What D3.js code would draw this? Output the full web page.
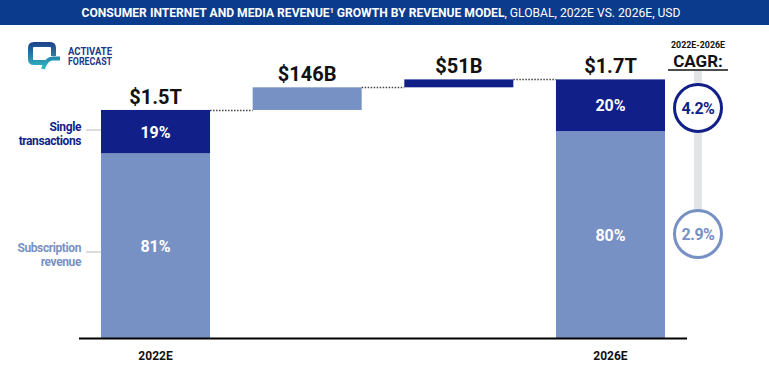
<!DOCTYPE html>
<html>
<head>
<meta charset="utf-8">
<script src="https://cdn.jsdelivr.net/npm/d3@7"></script>
<style>
  html, body { margin: 0; padding: 0; background: #fff; }
  svg { display: block; font-family: Roboto, 'Noto Sans', sans-serif; }
</style>
</head>
<body>
<div id="chart"></div>
<script>
// Data (billions USD)
const steps = ['2022E', 'subscription', 'single', '2026E'];
const stepLabels = ['$1.5T', '$146B', '$51B', '$1.7T'];
const startTotal = 1470;
const deltas = [146, 51];
const endTotal = 1667;
const singleShare = [19, 20];
const subShare = [81, 80];
const axisLabels = ['2022E', '', '', '2026E'];
const cagrValues = ['4.2%', '2.9%'];

const W = 769, H = 371;
const DARK = '#111f88', LIGHT = '#7891c4', TITLE = '#0a3b8c';

const svg = d3.select('#chart').append('svg')
  .attr('width', W).attr('height', H);
const defs = svg.append('defs');

// Title bar
svg.append('rect').attr('x', 0).attr('y', 0).attr('width', W).attr('height', 25).attr('fill', TITLE);
const title = svg.append('text')
  .attr('x', 381).attr('y', 17)
  .attr('text-anchor', 'middle')
  .attr('fill', '#fff')
  .style('font-size', '12px');
title.append('tspan').attr('font-weight', 700).text('CONSUMER INTERNET AND MEDIA REVENUE');
title.append('tspan').attr('font-weight', 700).attr('font-size', '7px').attr('dy', -4).text('1');
title.append('tspan').attr('font-weight', 700).attr('dy', 4).text(' GROWTH BY REVENUE MODEL');
title.append('tspan').attr('font-weight', 400).text(', GLOBAL, 2022E VS. 2026E, USD');
title.attr('textLength', 599).attr('lengthAdjust', 'spacingAndGlyphs');

// Logo
const grad = defs.append('linearGradient')
  .attr('id', 'lg').attr('gradientUnits', 'userSpaceOnUse')
  .attr('x1', 0).attr('y1', 42).attr('x2', 0).attr('y2', 70);
grad.append('stop').attr('offset', '0%').attr('stop-color', '#1d3f8a');
grad.append('stop').attr('offset', '100%').attr('stop-color', '#2ec3c8');
const logo = svg.append('g');
logo.append('path')
  .attr('d', 'M47,62.5 H34 Q30.5,62.5 30.5,59 V48 Q30.5,44.5 34,44.5 H50 Q53.5,44.5 53.5,48 V56')
  .attr('fill', 'none').attr('stroke', 'url(#lg)').attr('stroke-width', 5);
logo.append('path')
  .attr('d', 'M43,69 Q46,58.5 53,58.5 H60')
  .attr('fill', 'none').attr('stroke', 'url(#lg)').attr('stroke-width', 4);
logo.append('text').attr('x', 68).attr('y', 55).attr('fill', '#1a3a8a')
  .attr('font-weight', 700).style('font-size', '10px')
  .attr('textLength', 44).attr('lengthAdjust', 'spacingAndGlyphs').text('ACTIVATE');
logo.append('text').attr('x', 68).attr('y', 65).attr('fill', '#1a3a8a')
  .attr('font-weight', 700).style('font-size', '10px')
  .attr('textLength', 44).attr('lengthAdjust', 'spacingAndGlyphs').text('FORECAST');

// Scales
const x = d3.scaleBand().domain(steps).range([101, 665]).paddingInner(0.281).paddingOuter(0);
const y = d3.scaleLinear().domain([0, endTotal]).range([338, 79.4]);

// Waterfall geometry
const bars = [];
bars.push({ key: steps[0], lo: 0, hi: startTotal });
let run = startTotal;
deltas.forEach((d, i) => { bars.push({ key: steps[i + 1], lo: run, hi: run + d, color: i === 0 ? LIGHT : DARK }); run += d; });
bars.push({ key: steps[3], lo: 0, hi: endTotal });

// Stacked totals
[[0, 0], [3, 1]].forEach(([bi, si]) => {
  const b = bars[bi];
  const split = b.hi * subShare[si] / 100;
  svg.append('rect').attr('x', x(b.key)).attr('width', x.bandwidth())
    .attr('y', y(split)).attr('height', y(0) - y(split)).attr('fill', LIGHT);
  svg.append('rect').attr('x', x(b.key)).attr('width', x.bandwidth())
    .attr('y', y(b.hi)).attr('height', y(split) - y(b.hi)).attr('fill', DARK);
  svg.append('text').attr('x', x(b.key) + x.bandwidth() / 2).attr('y', (y(split) + y(b.hi)) / 2 + 6)
    .attr('text-anchor', 'middle').attr('fill', '#fff').attr('font-weight', 700).style('font-size', '16px')
    .text(singleShare[si] + '%');
  svg.append('text').attr('x', x(b.key) + x.bandwidth() / 2).attr('y', (y(0) + y(split)) / 2 + 6)
    .attr('text-anchor', 'middle').attr('fill', '#fff').attr('font-weight', 700).style('font-size', '16px')
    .text(subShare[si] + '%');
});

// Delta bars
bars.slice(1, 3).forEach(b => {
  svg.append('rect').attr('x', x(b.key)).attr('width', x.bandwidth())
    .attr('y', y(b.hi)).attr('height', y(b.lo) - y(b.hi)).attr('fill', b.color);
});

// Dotted connectors
for (let i = 0; i < bars.length - 1; i++) {
  const yy = Math.round(y(bars[i].hi)) + 0.5;
  svg.append('line')
    .attr('x1', x(bars[i].key) + x.bandwidth()).attr('x2', x(bars[i + 1].key))
    .attr('y1', yy).attr('y2', yy)
    .attr('stroke', '#444').attr('stroke-width', 1.5).attr('stroke-dasharray', '1.5,1.5');
}

// Value labels
bars.forEach((b, i) => {
  svg.append('text').attr('x', x(b.key) + x.bandwidth() / 2).attr('y', y(b.hi) - 6)
    .attr('text-anchor', 'middle').attr('fill', '#111').attr('font-weight', 700).style('font-size', '20px')
    .text(stepLabels[i]);
});

// Baseline
svg.append('line').attr('x1', 79).attr('x2', 687).attr('y1', 338.5).attr('y2', 338.5)
  .attr('stroke', '#000').attr('stroke-width', 2);

// Axis labels
axisLabels.forEach((t, i) => {
  if (!t) return;
  svg.append('text').attr('x', x(steps[i]) + x.bandwidth() / 2).attr('y', 360)
    .attr('text-anchor', 'middle').attr('fill', '#111').attr('font-weight', 700).style('font-size', '12px')
    .text(t);
});

// Left legend labels
const legend = [
  { lines: ['Single', 'transactions'], y: 127, line: 130, color: DARK },
  { lines: ['Subscription', 'revenue'], y: 248, line: 252, color: LIGHT }
];
legend.forEach(l => {
  l.lines.forEach((s, j) => {
    svg.append('text').attr('x', 81).attr('y', l.y + 4 + j * 13.5)
      .attr('text-anchor', 'end').attr('fill', l.color).attr('font-weight', 700)
      .style('font-size', '12px').style('letter-spacing', '-0.4px').text(s);
  });
  svg.append('line').attr('x1', 86).attr('x2', 101).attr('y1', l.line).attr('y2', l.line)
    .attr('stroke', '#bbb').attr('stroke-width', 1);
});

// CAGR panel
const cx = 698;
svg.append('text').attr('x', cx).attr('y', 48).attr('text-anchor', 'middle')
  .attr('fill', '#111').attr('font-weight', 700).style('font-size', '9px')
  .attr('textLength', 54).attr('lengthAdjust', 'spacingAndGlyphs').text('2022E-2026E');
svg.append('text').attr('x', cx).attr('y', 67).attr('text-anchor', 'middle')
  .attr('fill', '#111').attr('font-weight', 700).style('font-size', '17px').text('CAGR:');
svg.append('line').attr('x1', 668).attr('x2', 728).attr('y1', 70).attr('y2', 70)
  .attr('stroke', '#111').attr('stroke-width', 1.5);
svg.append('rect').attr('x', cx - 4).attr('y', 71).attr('width', 8).attr('height', 140).attr('fill', '#e3e4e6');

const circles = [{ y: 108, c: DARK }, { y: 234, c: LIGHT }];
circles.forEach((c, i) => {
  svg.append('circle').attr('cx', cx).attr('cy', c.y).attr('r', 23.5)
    .attr('fill', '#fff').attr('stroke', c.c).attr('stroke-width', 3);
  svg.append('text').attr('x', cx).attr('y', c.y + 6).attr('text-anchor', 'middle')
    .attr('fill', c.c).attr('font-weight', 700).style('font-size', '16px')
    .style('letter-spacing', '-0.5px').text(cagrValues[i]);
});
</script>
</body>
</html>
